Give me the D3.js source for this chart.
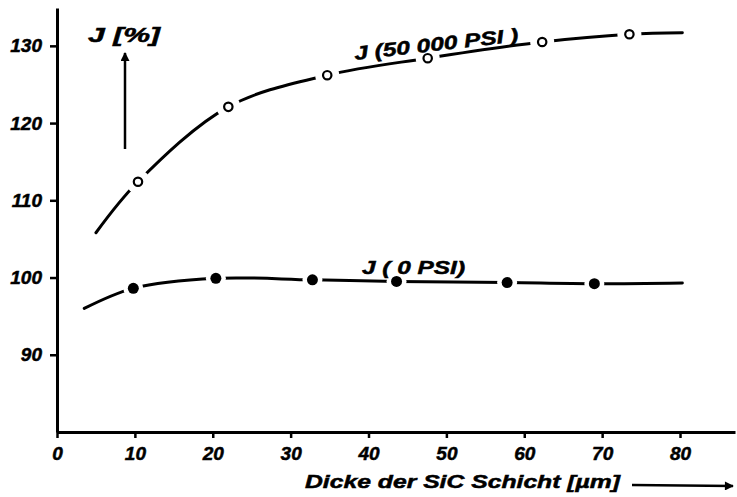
<!DOCTYPE html>
<html>
<head>
<meta charset="utf-8">
<script src="https://cdn.jsdelivr.net/npm/d3@7"></script>
<style>
  body { margin: 0; background: #fff; }
  text { font-family: "Liberation Sans", Arial, sans-serif; font-style: italic; font-weight: bold; fill: #000; stroke: #000; stroke-width: 0.5px; }
</style>
</head>
<body>
<div id="chart"></div>
<script>
// Data
const xTicks = [0, 10, 20, 30, 40, 50, 60, 70, 80];
const yTicks = [90, 100, 110, 120, 130];

// J (50 000 PSI) - curve and open circles
const curve50kX = [5.0, 10.4, 22.0, 34.7, 47.6, 62.3, 73.5, 80.3];
const curve50kY = [105.8, 112.4, 122.1, 126.2, 128.4, 130.5, 131.5, 131.7];
const marks50kX = [10.4, 22.0, 34.7, 47.6, 62.3, 73.5];
const marks50kY = [112.4, 122.1, 126.2, 128.4, 130.5, 131.5];

// J (0 PSI) - curve and filled circles
const curve0X = [3.5, 9.8, 20.4, 32.8, 43.6, 57.8, 69.0, 80.3];
const curve0Y = [96.0, 98.6, 99.9, 99.7, 99.5, 99.35, 99.2, 99.3];
const marks0X = [9.8, 20.4, 32.8, 43.6, 57.8, 69.0];
const marks0Y = [98.6, 99.9, 99.7, 99.5, 99.35, 99.2];

const width = 737, height = 497;

const svg = d3.select("#chart")
  .append("svg")
  .attr("width", width)
  .attr("height", height);

// Scales
const xScale = d3.scaleLinear().domain([0, 87.06]).range([57, 735]);
const yScale = d3.scaleLinear().domain([80, 134.9]).range([432, 8]);

// Defs: arrow head
svg.append("defs").append("marker")
  .attr("id", "arrow")
  .attr("viewBox", "0 0 10 10")
  .attr("refX", 9).attr("refY", 5)
  .attr("markerWidth", 5).attr("markerHeight", 3.6)
  .attr("orient", "auto")
  .append("path")
  .attr("d", "M0,0 L10,5 L0,10 Z")
  .attr("fill", "#000");

// Axes
const xAxis = svg.append("g")
  .attr("transform", `translate(0,${yScale(80)})`)
  .call(d3.axisBottom(xScale).tickValues(xTicks).tickSize(6).tickSizeOuter(0).tickPadding(9));

const yAxis = svg.append("g")
  .attr("transform", `translate(${xScale(0)},0)`)
  .call(d3.axisLeft(yScale).tickValues(yTicks).tickSize(7).tickSizeOuter(0).tickPadding(8));

[xAxis, yAxis].forEach((ax) => {
  ax.select(".domain").attr("stroke", "#000").attr("stroke-width", 3);
  ax.selectAll(".tick line").attr("stroke", "#000").attr("stroke-width", 2.5);
  ax.selectAll(".tick text")
    .attr("fill", "#000")
    .style("font-size", "19px")
    .style("font-family", "'Liberation Sans', Arial, sans-serif")
    .style("font-style", "italic")
    .style("font-weight", "bold");
});

// Curves
const line = d3.line()
  .x((d) => xScale(d[0]))
  .y((d) => yScale(d[1]))
  .curve(d3.curveCatmullRom.alpha(0.5));

function drawCurve(xs, ys) {
  svg.append("path")
    .datum(xs.map((x, i) => [x, ys[i]]))
    .attr("fill", "none")
    .attr("stroke", "#000")
    .attr("stroke-width", 3)
    .attr("stroke-linecap", "round")
    .attr("d", line);
}

drawCurve(curve50kX, curve50kY);
drawCurve(curve0X, curve0Y);

// White gaps around the markers, then the markers
function drawMarks(xs, ys, gap, r, filled) {
  const pts = xs.map((x, i) => [x, ys[i]]);
  svg.append("g").selectAll("circle")
    .data(pts).join("circle")
    .attr("cx", (d) => xScale(d[0]))
    .attr("cy", (d) => yScale(d[1]))
    .attr("r", gap)
    .attr("fill", "#fff");
  svg.append("g").selectAll("circle")
    .data(pts).join("circle")
    .attr("cx", (d) => xScale(d[0]))
    .attr("cy", (d) => yScale(d[1]))
    .attr("r", r)
    .attr("fill", filled ? "#000" : "#fff")
    .attr("stroke", "#000")
    .attr("stroke-width", filled ? 0 : 2.2);
}

drawMarks(marks50kX, marks50kY, 12, 4.2, false);
drawMarks(marks0X, marks0Y, 10, 5.5, true);

// Curve labels
svg.append("text")
  .attr("transform", "translate(355,60) rotate(-6.5)")
  .attr("textLength", 165)
  .attr("lengthAdjust", "spacingAndGlyphs")
  .style("font-size", "19px")
  .text("J  (50 000 PSI )");

svg.append("text")
  .attr("x", 362)
  .attr("y", 274)
  .attr("textLength", 103)
  .attr("lengthAdjust", "spacingAndGlyphs")
  .style("font-size", "19px")
  .text("J ( 0 PSI)");

// Y axis title with arrow
svg.append("text")
  .attr("x", 88)
  .attr("y", 42)
  .attr("textLength", 72)
  .attr("lengthAdjust", "spacingAndGlyphs")
  .style("font-size", "20px")
  .text("J [%]");

svg.append("line")
  .attr("x1", 125).attr("y1", 149)
  .attr("x2", 125).attr("y2", 53)
  .attr("stroke", "#000")
  .attr("stroke-width", 2.5)
  .attr("marker-end", "url(#arrow)");

// X axis title with arrow
svg.append("text")
  .attr("x", 305)
  .attr("y", 488)
  .attr("textLength", 315)
  .attr("lengthAdjust", "spacingAndGlyphs")
  .style("font-size", "19px")
  .text("Dicke der SiC Schicht [µm]");

svg.append("line")
  .attr("x1", 632).attr("y1", 485)
  .attr("x2", 733).attr("y2", 486)
  .attr("stroke", "#000")
  .attr("stroke-width", 2.5)
  .attr("marker-end", "url(#arrow)");
</script>
</body>
</html>
